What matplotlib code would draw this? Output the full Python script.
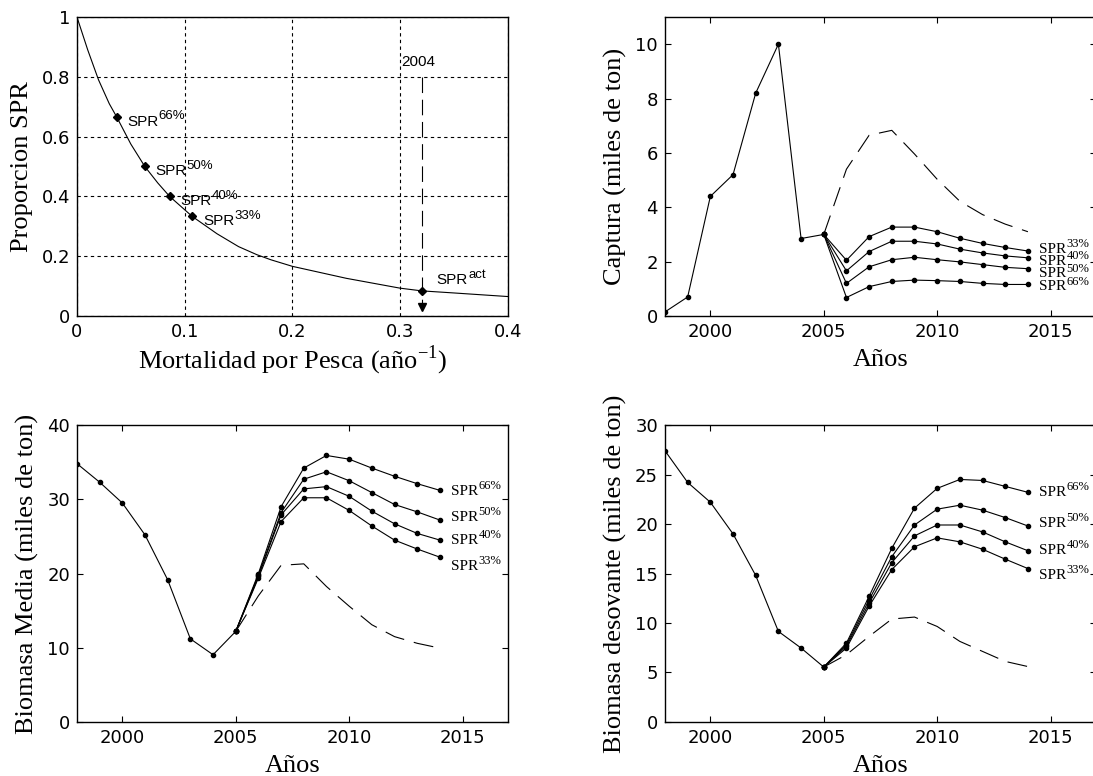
import matplotlib
matplotlib.use('Agg')
import matplotlib.pyplot as plt
import numpy as np

# --- datos ---
# curva SPR vs F
f_mort = [0, 0.01, 0.02, 0.03, 0.037, 0.05, 0.063, 0.075, 0.086, 0.107, 0.13,
          0.15, 0.167, 0.18, 0.2, 0.25, 0.3, 0.32, 0.35, 0.4]
spr_curve = [1.0, 0.89, 0.79, 0.71, 0.665, 0.575, 0.50, 0.445, 0.40, 0.333, 0.275,
             0.232, 0.205, 0.188, 0.166, 0.126, 0.093, 0.084, 0.077, 0.065]
spr_ref_f = [0.037, 0.063, 0.086, 0.107]
spr_ref_v = [0.665, 0.50, 0.40, 0.333]
spr_ref_lab = ['66%', '50%', '40%', '33%']
f_act = 0.32
spr_act = 0.084

years_hist = [1998, 1999, 2000, 2001, 2002, 2003, 2004, 2005]
years_proj = [2005, 2006, 2007, 2008, 2009, 2010, 2011, 2012, 2013, 2014]

# captura
capt_hist = [0.15, 0.7, 4.4, 5.2, 8.2, 10.0, 2.85, 3.0]
capt_33 = [3.0, 2.05, 2.92, 3.27, 3.27, 3.1, 2.86, 2.67, 2.52, 2.39]
capt_40 = [3.0, 1.66, 2.37, 2.75, 2.75, 2.65, 2.46, 2.32, 2.21, 2.14]
capt_50 = [3.0, 1.2, 1.81, 2.07, 2.16, 2.07, 1.99, 1.89, 1.79, 1.74]
capt_66 = [3.0, 0.68, 1.08, 1.27, 1.32, 1.3, 1.27, 1.2, 1.16, 1.16]
capt_act = [3.0, 5.4, 6.65, 6.83, 5.96, 5.03, 4.22, 3.73, 3.38, 3.1]

# biomasa media
bm_hist = [34.8, 32.3, 29.5, 25.2, 19.15, 11.2, 9.06, 12.2]
bm_66 = [12.2, 20.0, 29.0, 34.2, 35.9, 35.4, 34.2, 33.1, 32.1, 31.2]
bm_50 = [12.2, 19.8, 28.2, 32.7, 33.7, 32.5, 30.9, 29.3, 28.3, 27.2]
bm_40 = [12.2, 19.6, 27.9, 31.4, 31.7, 30.4, 28.4, 26.7, 25.4, 24.5]
bm_33 = [12.2, 19.4, 27.0, 30.2, 30.2, 28.5, 26.4, 24.5, 23.3, 22.2]
bm_act = [12.2, 17.0, 21.1, 21.3, 18.25, 15.6, 13.1, 11.5, 10.6, 9.95]

# biomasa desovante
bd_hist = [27.4, 24.2, 22.2, 19.0, 14.8, 9.15, 7.47, 5.55]
bd_66 = [5.55, 7.97, 12.7, 17.55, 21.6, 23.6, 24.5, 24.4, 23.8, 23.2]
bd_50 = [5.55, 7.8, 12.35, 16.7, 19.9, 21.5, 21.9, 21.4, 20.65, 19.8]
bd_40 = [5.55, 7.65, 12.0, 16.1, 18.8, 19.9, 19.9, 19.2, 18.2, 17.3]
bd_33 = [5.55, 7.47, 11.7, 15.4, 17.7, 18.6, 18.2, 17.45, 16.45, 15.5]
bd_act = [5.55, 6.8, 8.65, 10.4, 10.6, 9.65, 8.14, 7.13, 6.12, 5.6]

serif = 'Liberation Serif'
sans = 'Liberation Sans'
tick_font = 'DejaVu Sans'
dash_long = (0, (18, 9))

fig = plt.figure(figsize=(10.93, 7.76), dpi=100)


def style_axes(ax):
    ax.tick_params(direction='in', top=True, right=True, length=4, width=0.8,
                   labelsize=13, pad=5)
    for lab in ax.get_xticklabels() + ax.get_yticklabels():
        lab.set_family(tick_font)
    for sp in ax.spines.values():
        sp.set_linewidth(1.0)


def sup_label(ax, x, y, base, sup, family, size, sup_size):
    # texto base con superindice pegado a su caja
    t = ax.text(x, y, base, family=family, fontsize=size, va='center', ha='left')
    ax.annotate(sup, xy=(1.0, 0.45), xycoords=t, family=family,
                fontsize=sup_size, va='bottom', ha='left')


def panel(ax, hist, series, act, ylim, yticks, ylabel, lab_pos):
    ax.plot(years_hist, hist, 'k-', lw=0.8, marker='o', ms=3)
    for s in series:
        ax.plot(years_proj, s, 'k-', lw=0.8, marker='o', ms=3)
    ax.plot(years_proj, act, 'k', lw=0.8, linestyle=dash_long)
    for pct, yv in lab_pos:
        sup_label(ax, 2014.5, yv, 'SPR', pct, serif, 11, 9)
    ax.set_xlim(1998, 2017)
    ax.set_ylim(*ylim)
    ax.set_xticks([2000, 2005, 2010, 2015])
    ax.set_yticks(yticks)
    ax.set_xlabel('Años', family=serif, fontsize=19, labelpad=6)
    ax.set_ylabel(ylabel, family=serif, fontsize=19, labelpad=6)
    style_axes(ax)


# --- SPR vs F ---
ax1 = fig.add_axes([0.0704, 0.5928, 0.3943, 0.3853])
ax1.plot(f_mort, spr_curve, 'k-', lw=0.8)
ax1.plot(spr_ref_f, spr_ref_v, 'kD', ms=4)
for fx, sv, lab in zip(spr_ref_f, spr_ref_v, spr_ref_lab):
    sup_label(ax1, fx + 0.01, sv - 0.015, 'SPR', lab, sans, 11, 9.5)
ax1.plot([f_act, f_act], [0.8, 0.04], 'k', lw=0.8, linestyle=(0, (14, 6)))
ax1.plot([f_act], [0.03], 'kv', ms=6)
ax1.plot([f_act], [spr_act], 'kD', ms=4)
ax1.text(0.301, 0.85, '2004', family=sans, fontsize=11, va='center')
sup_label(ax1, 0.334, 0.12, 'SPR', 'act', sans, 11, 9.5)
ax1.set_xlim(0, 0.4)
ax1.set_ylim(0, 1)
ax1.set_xticks([0, 0.1, 0.2, 0.3, 0.4])
ax1.set_xticklabels(['0', '0.1', '0.2', '0.3', '0.4'])
ax1.set_yticks([0, 0.2, 0.4, 0.6, 0.8, 1])
ax1.set_yticklabels(['0', '0.2', '0.4', '0.6', '0.8', '1'])
ax1.grid(True, color='k', lw=0.8, linestyle=(0, (3, 3)))
ax1.set_xlabel(r'Mortalidad por Pesca (año$^{\mathregular{-1}}$)', family=serif,
               fontsize=19, labelpad=2)
ax1.set_ylabel('Proporcion SPR', family=serif, fontsize=19, labelpad=6)
style_axes(ax1)
ax1.tick_params(length=0)

# --- Captura ---
ax2 = fig.add_axes([0.6084, 0.5928, 0.3943, 0.3853])
panel(ax2, capt_hist, [capt_33, capt_40, capt_50, capt_66], capt_act,
      (0, 11), [0, 2, 4, 6, 8, 10], 'Captura (miles de ton)',
      [('33%', 2.45), ('40%', 2.0), ('50%', 1.55), ('66%', 1.07)])

# --- Biomasa media ---
ax3 = fig.add_axes([0.0704, 0.0696, 0.3943, 0.3827])
panel(ax3, bm_hist, [bm_66, bm_50, bm_40, bm_33], bm_act,
      (0, 40), [0, 10, 20, 30, 40], 'Biomasa Media (miles de ton)',
      [('66%', 31.1), ('50%', 27.5), ('40%', 24.4), ('33%', 20.9)])

# --- Biomasa desovante ---
ax4 = fig.add_axes([0.6084, 0.0696, 0.3943, 0.3827])
panel(ax4, bd_hist, [bd_66, bd_50, bd_40, bd_33], bd_act,
      (0, 30), [0, 5, 10, 15, 20, 25, 30], 'Biomasa desovante (miles de ton)',
      [('66%', 23.2), ('50%', 20.1), ('40%', 17.3), ('33%', 14.8)])

fig.savefig('out.png', dpi=100)
